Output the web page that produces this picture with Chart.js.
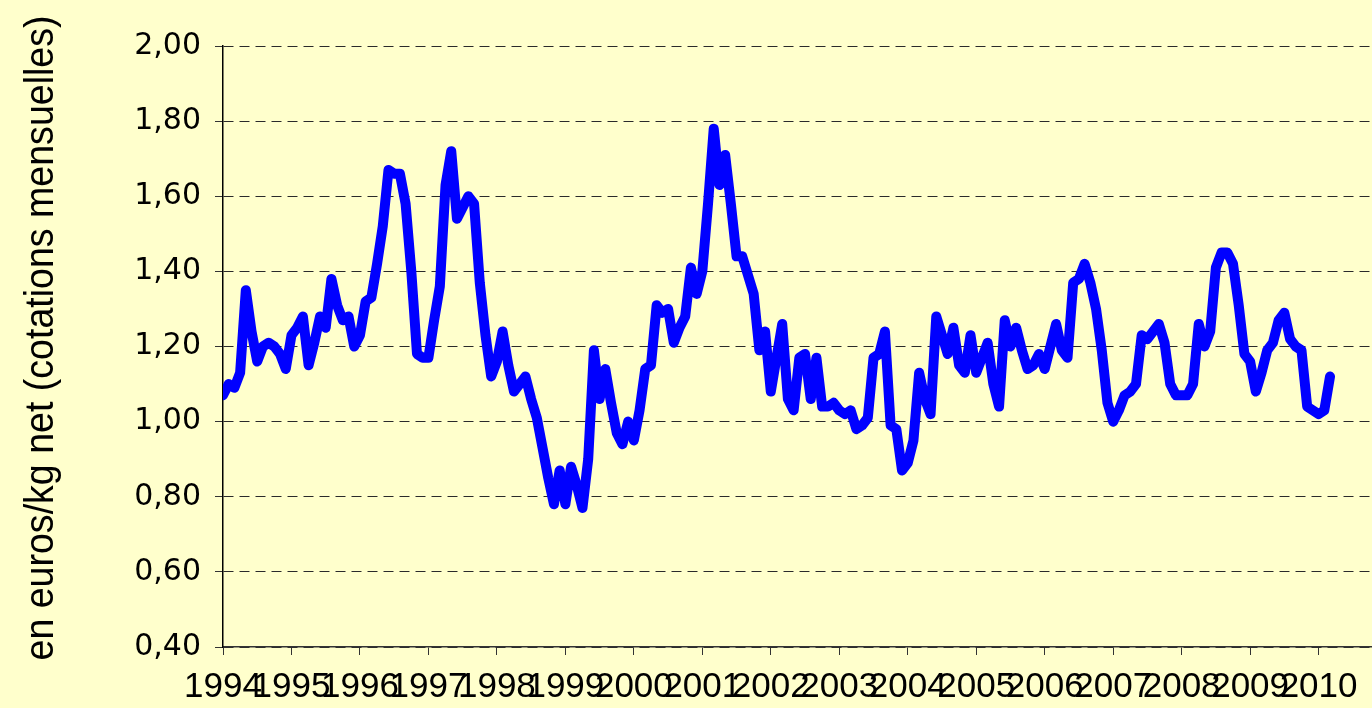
<!DOCTYPE html>
<html>
<head>
<meta charset="utf-8">
<script src="https://cdn.jsdelivr.net/npm/chart.js@4.4.0/dist/chart.umd.min.js"></script>
<style>
    html, body { margin: 0; padding: 0; background: #ffffcc; }
    #graph { display: block; }
</style>
</head>
<body>
<canvas id="graph" width="1372" height="708"></canvas>
<script>
// cotations mensuelles, janvier 1994 -> mars 2010
const premiereAnnee = 1994;
const cotations = [
    1.07, 1.10, 1.09, 1.13, 1.35, 1.24, 1.16, 1.20, 1.21, 1.20, 1.18, 1.14, // 1994
    1.23, 1.25, 1.28, 1.15, 1.21, 1.28, 1.25, 1.38, 1.31, 1.27, 1.28, 1.20, // 1995
    1.23, 1.32, 1.33, 1.42, 1.52, 1.67, 1.66, 1.66, 1.58, 1.40, 1.18, 1.17, // 1996
    1.17, 1.27, 1.36, 1.63, 1.72, 1.54, 1.57, 1.60, 1.58, 1.37, 1.23, 1.12, // 1997
    1.16, 1.24, 1.15, 1.08, 1.10, 1.12, 1.06, 1.01, 0.93, 0.85, 0.78, 0.87, // 1998
    0.78, 0.88, 0.83, 0.77, 0.90, 1.19, 1.06, 1.14, 1.05, 0.97, 0.94, 1.00, // 1999
    0.95, 1.03, 1.14, 1.15, 1.31, 1.29, 1.30, 1.21, 1.25, 1.28, 1.41, 1.34, // 2000
    1.40, 1.58, 1.78, 1.63, 1.71, 1.58, 1.44, 1.44, 1.39, 1.34, 1.19, 1.24, // 2001
    1.08, 1.17, 1.26, 1.06, 1.03, 1.17, 1.18, 1.06, 1.17, 1.04, 1.04, 1.05, // 2002
    1.03, 1.02, 1.03, 0.98, 0.99, 1.01, 1.17, 1.18, 1.24, 0.99, 0.98, 0.87, // 2003
    0.89, 0.95, 1.13, 1.06, 1.02, 1.28, 1.23, 1.18, 1.25, 1.15, 1.13, 1.23, // 2004
    1.13, 1.17, 1.21, 1.10, 1.04, 1.27, 1.20, 1.25, 1.19, 1.14, 1.15, 1.18, // 2005
    1.14, 1.20, 1.26, 1.19, 1.17, 1.37, 1.38, 1.42, 1.37, 1.30, 1.19, 1.05, // 2006
    1.00, 1.03, 1.07, 1.08, 1.10, 1.23, 1.22, 1.24, 1.26, 1.21, 1.10, 1.07, // 2007
    1.07, 1.07, 1.10, 1.26, 1.20, 1.24, 1.41, 1.45, 1.45, 1.42, 1.31, 1.18, // 2008
    1.16, 1.08, 1.13, 1.19, 1.21, 1.27, 1.29, 1.22, 1.20, 1.19, 1.04, 1.03, // 2009
    1.02, 1.03, 1.12                                                        // 2010
];
const annees = [1994, 1995, 1996, 1997, 1998, 1999, 2000, 2001, 2002,
    2003, 2004, 2005, 2006, 2007, 2008, 2009, 2010];
const yTicks = [0.40, 0.60, 0.80, 1.00, 1.20, 1.40, 1.60, 1.80, 2.00];
const titreY = "en euros/kg net (cotations mensuelles)";

// points (annee decimale, prix)
const points = cotations.map((v, i) => ({ x: premiereAnnee + i / 12, y: v }));

const ctx = document.getElementById("graph").getContext("2d");

const fond = {
    id: "fond",
    beforeDraw(chart) {
        const c = chart.ctx;
        c.save();
        c.fillStyle = "#ffffcc";
        c.fillRect(0, 0, chart.width, chart.height);
        c.restore();
    }
};

// titre vertical, police etroite comme dans l'original
const titreAxe = {
    id: "titreAxe",
    afterDraw(chart) {
        const c = chart.ctx;
        c.save();
        c.font = "40px 'Liberation Sans', Arial, sans-serif";
        const largeur = c.measureText(titreY).width;
        c.translate(42, 338);
        c.rotate(-Math.PI / 2);
        c.scale(645 / largeur, 1);
        c.fillStyle = "#000000";
        c.textAlign = "center";
        c.textBaseline = "middle";
        c.fillText(titreY, 0, 0);
        c.restore();
    }
};

const graph = new Chart(ctx, {
    type: "line",
    data: {
        datasets: [{
            label: "cotations",
            data: points,
            borderColor: "#0000ff",
            borderWidth: 10,
            pointRadius: 0,
            tension: 0,
            borderJoinStyle: "round",
            borderCapStyle: "round",
            fill: false
        }]
    },
    options: {
        responsive: false,
        animation: false,
        devicePixelRatio: 1,
        layout: { padding: { top: 46, right: 0, left: 0, bottom: 0 } },
        plugins: {
            legend: { display: false },
            tooltip: { enabled: false }
        },
        scales: {
            x: {
                type: "linear",
                min: 1994,
                max: 2010.78,
                afterBuildTicks: (scale) => {
                    scale.ticks = annees.map(a => ({ value: a }));
                },
                afterFit: (scale) => { scale.height = 61; },
                border: { display: true, color: "#333333", width: 1.5 },
                grid: {
                    drawOnChartArea: false,
                    drawTicks: true,
                    tickLength: 8,
                    color: "#333333"
                },
                ticks: {
                    autoSkip: false,
                    maxRotation: 0,
                    padding: 11,
                    color: "#000000",
                    font: { family: "'Liberation Sans', Arial, sans-serif", size: 35 },
                    callback: (v) => String(v)
                }
            },
            y: {
                min: 0.40,
                max: 2.00,
                afterBuildTicks: (scale) => {
                    scale.ticks = yTicks.map(v => ({ value: v }));
                },
                afterFit: (scale) => { scale.width = 223; },
                border: { display: true, color: "#000000", width: 1.5, dash: [10, 6] },
                grid: {
                    color: "#2a2a2a",
                    lineWidth: 1,
                    tickLength: 8,
                    tickColor: "#333333",
                    tickBorderDash: []
                },
                ticks: {
                    padding: 14,
                    color: "#000000",
                    font: { family: "'DejaVu Sans', sans-serif", size: 30 },
                    callback: (v) => v.toFixed(2).replace(".", ",")
                },
                title: { display: false }
            }
        }
    },
    plugins: [fond, titreAxe]
});
</script>
</body>
</html>
